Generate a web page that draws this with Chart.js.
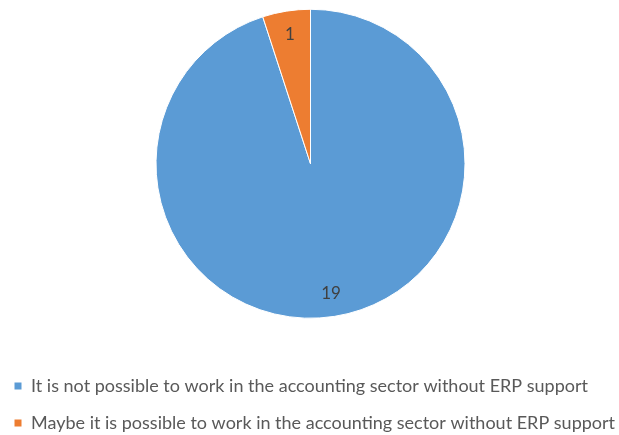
<!DOCTYPE html>
<html>
<head>
<meta charset="utf-8">
<script src="https://cdn.jsdelivr.net/npm/chart.js@4"></script>
<style>
  html, body { margin: 0; padding: 0; background: #fff; overflow: hidden; }
  #wrap { position: relative; left: 1px; width: 619px; height: 435px; }
</style>
</head>
<body>
<div id="wrap"><canvas id="c"></canvas></div>
<script>
const categories = [
  "It is not possible to work in the accounting sector without ERP support",
  "Maybe it is possible to work in the accounting sector without ERP support"
];
const counts = [19, 1];
const sliceColors = ["#5B9BD5", "#ED7D31"];

const FONT = "Lato, 'Liberation Sans', sans-serif";
const LEGEND_SIZE = 18;

const sliceLabels = {
  id: 'sliceLabels',
  afterDatasetsDraw(chart) {
    const ctx = chart.ctx;
    const meta = chart.getDatasetMeta(0);
    ctx.save();
    ctx.font = "17px " + FONT;
    ctx.fillStyle = "#404040";
    ctx.textAlign = "center";
    ctx.textBaseline = "middle";
    meta.data.forEach((arc, i) => {
      const p = arc.getProps(['x', 'y', 'startAngle', 'endAngle', 'outerRadius']);
      const mid = (p.startAngle + p.endAngle) / 2;
      const r = p.outerRadius * 0.85;
      ctx.fillText(String(chart.data.datasets[0].data[i]), p.x + Math.cos(mid) * r, p.y + Math.sin(mid) * r);
    });
    ctx.restore();
  }
};

new Chart(document.getElementById('c'), {
  type: 'pie',
  data: {
    labels: categories,
    datasets: [{
      data: counts,
      backgroundColor: sliceColors,
      borderColor: '#ffffff',
      borderWidth: 1,
      radius: 154.5
    }]
  },
  options: {
    responsive: true,
    maintainAspectRatio: false,
    animation: false,
    layout: { padding: { left: -6, right: 0, top: 0, bottom: -7 } },
    plugins: {
      tooltip: { enabled: false },
      legend: {
        position: 'bottom',
        align: 'start',
        title: {
          display: true,
          text: '',
          font: { size: 12, lineHeight: 1 },
          padding: { top: 18.5, bottom: 0 }
        },
        labels: {
          boxWidth: 8,
          boxHeight: 8,
          padding: 37 - LEGEND_SIZE,
          color: '#595959',
          font: { family: FONT, size: LEGEND_SIZE }
        }
      }
    }
  },
  plugins: [sliceLabels]
});
</script>
</body>
</html>
